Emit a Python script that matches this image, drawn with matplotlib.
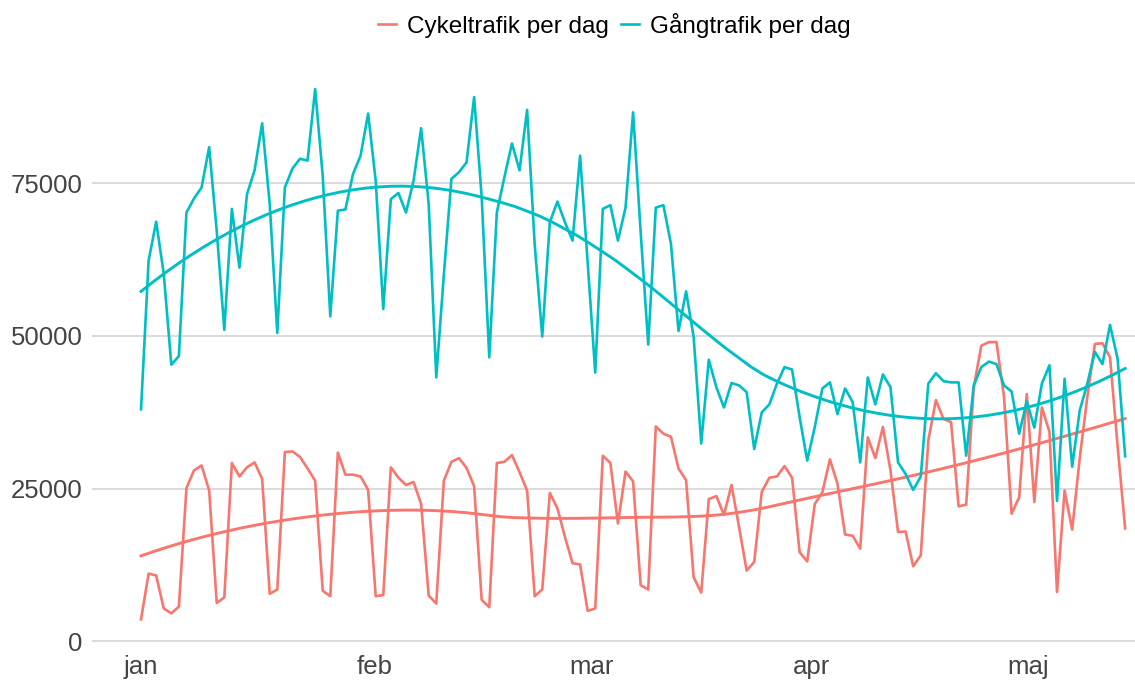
import numpy as np
import matplotlib
matplotlib.use('Agg')
import matplotlib.pyplot as plt

plt.rcParams['font.family'] = ['Liberation Sans', 'DejaVu Sans']

# dag 0 = 1 jan 2020
cykel = [3600, 11100, 10800, 5400, 4600, 5700, 25100, 28000, 28800, 24700,
         6300, 7200, 29200, 27000, 28500, 29300, 26600, 7800, 8500, 31000,
         31100, 30200, 28300, 26300, 8300, 7400, 30900, 27300, 27300, 27000,
         24800, 7400, 7600, 28500, 26800, 25600, 26100, 22500, 7500, 6200,
         26300, 29400, 30000, 28400, 25400, 6800, 5600, 29200, 29400, 30500,
         27700, 24700, 7400, 8500, 24300, 21800, 17100, 12800, 12600, 5000,
         5400, 30400, 29200, 19300, 27800, 26200, 9200, 8500, 35200, 34000,
         33500, 28300, 26400, 10500, 8000, 23300, 23800, 20700, 25600, 18700,
         11600, 13000, 24500, 26800, 27000, 28700, 26800, 14600, 13100, 22500,
         24400, 29800, 25800, 17500, 17300, 15200, 33400, 30000, 35100, 28000,
         17900, 18000, 12300, 14100, 32900, 39500, 36400, 35900, 22100, 22400,
         41600, 48400, 49000, 49000, 40000, 20900, 23600, 40500, 22800, 38300,
         34300, 8100, 24700, 18300, 30000, 40000, 48700, 48800, 46500, 32000,
         18500]
gang = [38000, 62300, 68700, 60200, 45300, 46700, 70200, 72500, 74300, 80900,
        67200, 51000, 70800, 61200, 73200, 77100, 84800, 71600, 50500, 74300,
        77400, 79000, 78700, 90400, 76200, 53200, 70500, 70700, 76500, 79500,
        86400, 75400, 54400, 72400, 73400, 70200, 75400, 84000, 71600, 43200,
        60000, 75700, 76800, 78400, 89100, 72700, 46500, 70200, 76000, 81500,
        77100, 87000, 65000, 49900, 68600, 72000, 68600, 65600, 79500, 62000,
        44000, 70800, 71400, 65600, 71000, 86600, 67000, 48600, 71000, 71400,
        65100, 50800, 57300, 49800, 32400, 46100, 41600, 38300, 42300, 41900,
        40800, 31500, 37500, 38800, 42200, 44900, 44500, 36700, 29600, 35100,
        41400, 42400, 37200, 41400, 39200, 29300, 43200, 38800, 43700, 41600,
        29300, 27400, 24800, 27000, 42200, 43900, 42600, 42400, 42400, 30400,
        41900, 44900, 45800, 45400, 41900, 40900, 34000, 39300, 35000, 42200,
        45200, 23000, 43000, 28600, 37800, 42200, 47400, 45400, 51800, 46300,
        30300]
dag = np.arange(len(cykel))

manader = ['jan', 'feb', 'mar', 'apr', 'maj']
manad_pos = [0, 30.8, 59.5, 88.6, 117.2]

serier = ['Cykeltrafik per dag', 'Gångtrafik per dag']
farger = ['#F8766D', '#00BFC4']


def loess(x, y, span=0.75, n_ut=80):
    # lokal kvadratisk regression med tricube-vikter (som geom_smooth)
    x = np.asarray(x, float)
    y = np.asarray(y, float)
    q = int(np.floor(len(x) * span))
    xs = np.linspace(x.min(), x.max(), n_ut)
    ys = []
    for x0 in xs:
        d = np.abs(x - x0)
        h = np.sort(d)[q - 1]
        w = np.clip(1 - (d / h) ** 3, 0, None) ** 3
        A = np.vstack([np.ones_like(x), x - x0, (x - x0) ** 2]).T
        W = np.sqrt(w)
        b = np.linalg.lstsq(A * W[:, None], y * W, rcond=None)[0]
        ys.append(b[0])
    return xs, np.array(ys)


fig = plt.figure(figsize=(11.35, 6.84), dpi=100)
ax = fig.add_axes([0.0809, 0.0556, 0.9191, 0.8529])

for namn, data, farg in zip(serier, [cykel, gang], farger):
    ax.plot(dag, data, color=farg, lw=1.9, label=namn)
    xs, ys = loess(dag, data)
    ax.plot(xs, ys, color=farg, lw=2.1)

ax.set_xlim(-6.5, 131.3)
ax.set_ylim(-740, 94740)
ax.set_yticks([0, 25000, 50000, 75000])
ax.set_yticklabels(['0', '25000', '50000', '75000'])
ax.set_xticks(manad_pos)
ax.set_xticklabels(manader)
ax.grid(axis='y', color='#d4d4d4', lw=1.2)
ax.set_axisbelow(True)
for s in ax.spines.values():
    s.set_visible(False)
ax.tick_params(length=0, labelsize=18.5, labelcolor='#444444', pad=6.5)

fig.legend(loc='center', bbox_to_anchor=(0.541, 0.963), ncol=2, frameon=False,
           fontsize=17.5, handlelength=0.75, handletextpad=0.45, columnspacing=0.5)

fig.savefig('out.png', dpi=100)
